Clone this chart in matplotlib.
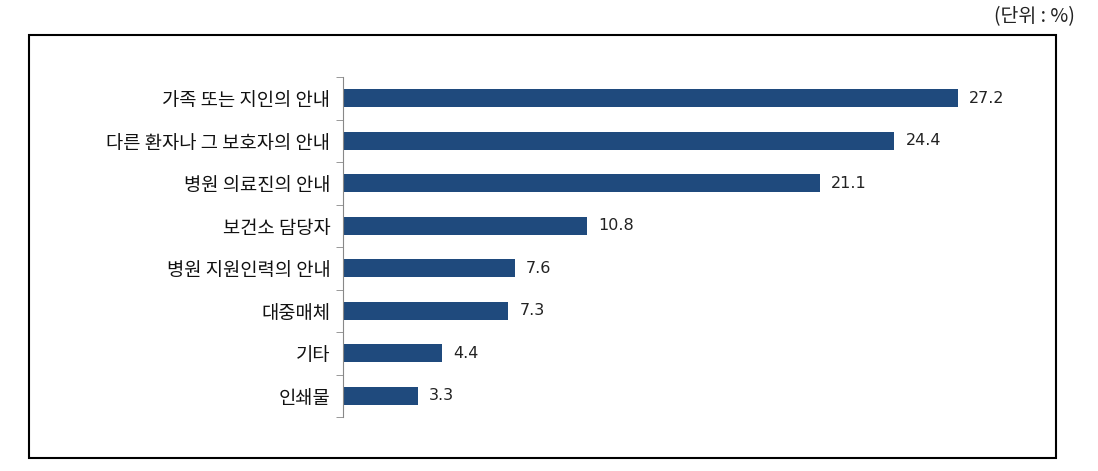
import matplotlib.pyplot as plt
from matplotlib.patches import Rectangle

plt.rcParams['font.family'] = ['Noto Sans CJK KR', 'DejaVu Sans']

# 데이터 (단위: %)
categorias = ["가족 또는 지인의 안내", "다른 환자나 그 보호자의 안내", "병원 의료진의 안내",
              "보건소 담당자", "병원 지원인력의 안내", "대중매체", "기타", "인쇄물"]
valores = [27.2, 24.4, 21.1, 10.8, 7.6, 7.3, 4.4, 3.3]

color_barra = '#1f4a7d'

fig = plt.figure(figsize=(10.98, 4.71), dpi=100)

# marco exterior
fig.patches.append(Rectangle((29 / 1098, 1 - 458 / 471), (1056 - 29) / 1098, (458 - 35) / 471,
                             transform=fig.transFigure, fill=False, edgecolor='black', linewidth=1.5))
fig.text(1075 / 1098, 1 - 17 / 471, "(단위 : %)", ha='right', va='center', fontsize=14, color='#222222')

ax = fig.add_axes([343 / 1098, 1 - 417 / 471, (1021 - 343) / 1098, (417 - 77) / 471])
pos = list(range(len(categorias)))
ax.barh(pos, valores, height=0.42, color=color_barra)
ax.set_xlim(0, 30)
ax.set_ylim(len(categorias) - 0.5, -0.5)

for y, v in zip(pos, valores):
    ax.text(v + 0.5, y, f"{v:.1f}", va='center', ha='left', fontsize=11.5,
            family='DejaVu Sans', color='#222222')

ax.set_yticks(pos)
ax.set_yticklabels(categorias, fontsize=13.5, color='#111111')
ax.tick_params(axis='y', length=0, pad=9)
ax.set_yticks([p - 0.5 for p in pos] + [len(pos) - 0.5], minor=True)
ax.tick_params(axis='y', which='minor', length=5, color='#888888', direction='out')
ax.set_xticks([])
for lado in ['top', 'right', 'bottom']:
    ax.spines[lado].set_visible(False)
ax.spines['left'].set_color('#888888')

fig.savefig('out.png', dpi=100)
